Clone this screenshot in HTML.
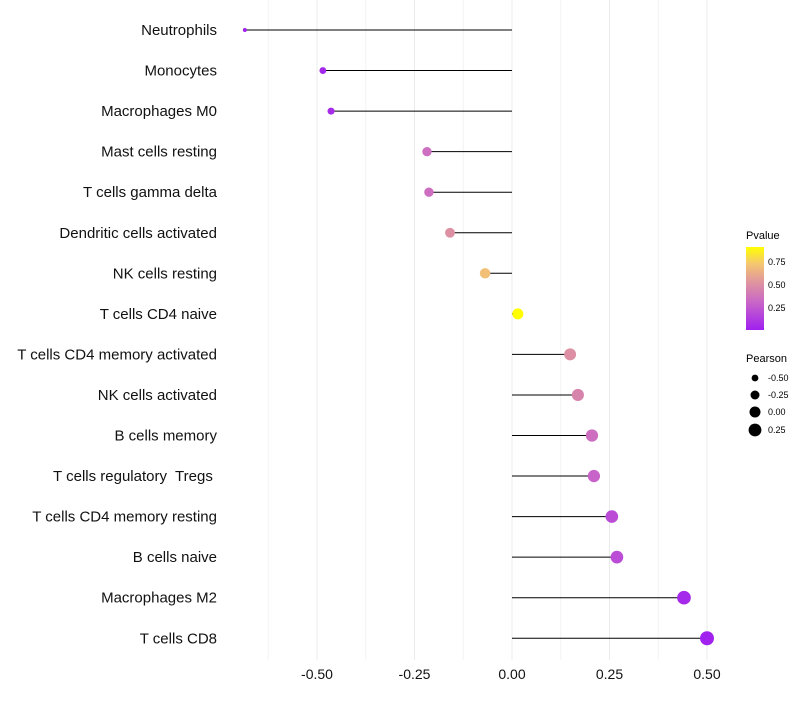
<!DOCTYPE html>
<html><head><meta charset="utf-8"><style>
body{margin:0;background:#fff;font-family:"Liberation Sans",sans-serif}
text{white-space:pre}
</style></head><body>
<svg id="chart" width="800" height="700" xmlns="http://www.w3.org/2000/svg">
<defs><linearGradient id="pg" x1="0" y1="1" x2="0" y2="0">
<stop offset="0" stop-color="#A020F0"/><stop offset="0.33" stop-color="#C865C8"/><stop offset="0.6" stop-color="#E29A9A"/><stop offset="0.8" stop-color="#F5C770"/><stop offset="1" stop-color="#FFFF00"/></linearGradient></defs>
<g id="grid"></g><g id="marks"></g><g id="labels"></g>
<g font-size="9">
<text x="746" y="239" font-size="11">Pvalue</text>
<rect x="746" y="247" width="18" height="83" fill="url(#pg)"/>
<text x="768" y="265">0.75</text><text x="768" y="288">0.50</text><text x="768" y="311">0.25</text>
</g>
<g font-size="9">
<text x="746" y="362" font-size="11">Pearson</text>
<circle cx="755" cy="378" r="3.4"/><text x="768" y="381">-0.50</text>
<circle cx="755" cy="395" r="4.5"/><text x="768" y="398">-0.25</text>
<circle cx="755" cy="412" r="5.5"/><text x="768" y="415">0.00</text>
<circle cx="755" cy="430" r="6.4"/><text x="768" y="433">0.25</text>
</g>
</svg>
<script>
const categories=["Neutrophils","Monocytes","Macrophages M0","Mast cells resting","T cells gamma delta","Dendritic cells activated","NK cells resting","T cells CD4 naive","T cells CD4 memory activated","NK cells activated","B cells memory","T cells regulatory  Tregs ","T cells CD4 memory resting","B cells naive","Macrophages M2","T cells CD8"];
const pearson=[-0.685,-0.485,-0.464,-0.218,-0.213,-0.159,-0.069,0.015,0.149,0.169,0.205,0.21,0.256,0.269,0.441,0.5];
const pvalue=[0.02,0.05,0.06,0.35,0.35,0.5,0.7,0.95,0.5,0.45,0.35,0.3,0.2,0.2,0.05,0.02];
const ticks=[-0.5,-0.25,0,0.25,0.5];
const tickLabels=["-0.50","-0.25","0.00","0.25","0.50"];
const NS="http://www.w3.org/2000/svg";
const xs=v=>512+v*390;
const ys=i=>30+i*40.55;
const stops=[[0,[160,32,240]],[0.33,[200,101,200]],[0.6,[226,154,154]],[0.8,[245,199,112]],[1,[255,255,0]]];
function col(p){let t=Math.max(0,Math.min(1,(p-0.01)/0.9));for(let k=1;k<stops.length;k++){if(t<=stops[k][0]){const a=stops[k-1],b=stops[k],f=(t-a[0])/(b[0]-a[0]);return"rgb("+a[1].map((c,j)=>Math.round(c+(b[1][j]-c)*f)).join(",")+")";}}return"rgb(255,255,0)";}
function rad(v){const mn=-0.685,mx=0.5;const a=4+45*(v-mn)/(mx-mn);return Math.sqrt(a);}
function mk(tag,at,parent){const e=document.createElementNS(NS,tag);for(const k in at)e.setAttribute(k,at[k]);document.getElementById(parent).appendChild(e);return e;}
for(let g=-0.625;g<=0.52;g+=0.125){const e=mk("line",{x1:xs(g),x2:xs(g),y1:0,y2:660,stroke:Math.abs(g*4-Math.round(g*4))<1e-6?"#ebebeb":"#f4f4f4","stroke-width":1},"grid");

}
ticks.forEach((t,i)=>{const e=mk("text",{x:xs(t),y:679,"text-anchor":"middle","font-size":14,fill:"#111"},"labels");e.textContent=tickLabels[i];

});
categories.forEach((c,i)=>{const y=ys(i);
const l=mk("line",{x1:xs(0),x2:xs(pearson[i]),y1:y,y2:y,stroke:"#000","stroke-width":1},"marks");


const d=mk("circle",{cx:xs(pearson[i]),cy:y,r:rad(pearson[i]),fill:col(pvalue[i])},"marks");


const t=mk("text",{x:217,y:y+5,"text-anchor":"end","font-size":15,fill:"#111"},"labels");t.textContent=c;
t.setAttribute('xml:space','preserve');

});
</script>
</body></html>
